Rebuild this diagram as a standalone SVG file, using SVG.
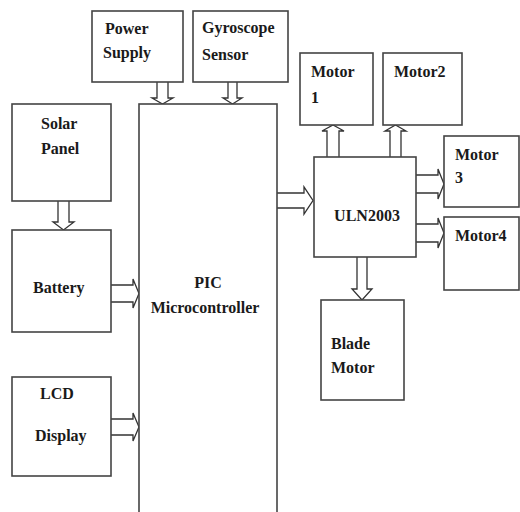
<svg xmlns="http://www.w3.org/2000/svg" width="520" height="512" viewBox="0 0 520 512">
<style>
.box{fill:#fff;stroke:#444;stroke-width:1.6}
.arr{fill:#fff;stroke:#333;stroke-width:1.3;stroke-linejoin:miter}
.t{font-family:'Liberation Serif','DejaVu Serif',serif;font-weight:bold;font-size:16px;fill:#1a1a1a}
</style>
<rect width="520" height="512" fill="#fff"/>
<g id="connectors">
<path class="arr" d="M157,82 V98 H152 L162.5,104 L173,98 H168 V82"/>
<path class="arr" d="M228,82 V98 H223 L232.5,104 L242,98 H237 V82"/>
<path class="arr" d="M58,201 V222 H53 L63.5,230 L74,222 H69 V201"/>
<path class="arr" d="M111,285 H133 V279 L139,293.5 L133,308 V302 H111"/>
<path class="arr" d="M111,419 H133 V413 L139,427 L133,441 V435 H111"/>
<path class="arr" d="M277,193 H304 V187 L313,200.5 L304,214 V208 H277"/>
<path class="arr" d="M327,157 V131 H322 L333,125 L344,131 H339 V157"/>
<path class="arr" d="M390,157 V131 H385 L395.5,125 L406,131 H401 V157"/>
<path class="arr" d="M416,175 H438 V169 L444,184 L438,199 V193 H416"/>
<path class="arr" d="M416,224 H438 V218 L444,233 L438,248 V242 H416"/>
<path class="arr" d="M357,257 V289 H352 L362,300 L372,289 H367 V257"/>
</g>
<g id="power"><rect class="box" x="92" y="11" width="91" height="71"/><text class="t" x="105" y="34">Power</text><text class="t" x="103" y="58">Supply</text></g>
<g id="gyro"><rect class="box" x="193" y="11" width="95" height="71"/><text class="t" x="202" y="33">Gyroscope</text><text class="t" x="202" y="60">Sensor</text></g>
<g id="pic"><rect class="box" x="139" y="104" width="138" height="420"/><text class="t" x="208" y="288" text-anchor="middle">PIC</text><text class="t" x="205" y="313" text-anchor="middle">Microcontroller</text></g>
<g id="solar"><rect class="box" x="12" y="104" width="99" height="97"/><text class="t" x="41" y="129">Solar</text><text class="t" x="41" y="154">Panel</text></g>
<g id="battery"><rect class="box" x="12" y="230" width="99" height="102"/><text class="t" x="33" y="293">Battery</text></g>
<g id="lcd"><rect class="box" x="12" y="377" width="99" height="99"/><text class="t" x="40" y="399">LCD</text><text class="t" x="35" y="441">Display</text></g>
<g id="uln"><rect class="box" x="314" y="157" width="102" height="100"/><text class="t" x="367" y="221" text-anchor="middle">ULN2003</text></g>
<g id="motor1"><rect class="box" x="300" y="53" width="73" height="72"/><text class="t" x="311" y="77">Motor</text><text class="t" x="311" y="103">1</text></g>
<g id="motor2"><rect class="box" x="383" y="53" width="79" height="72"/><text class="t" x="394" y="77">Motor2</text></g>
<g id="motor3"><rect class="box" x="444" y="136" width="75" height="71"/><text class="t" x="455" y="160">Motor</text><text class="t" x="455" y="183">3</text></g>
<g id="motor4"><rect class="box" x="444" y="217" width="75" height="73"/><text class="t" x="455" y="241">Motor4</text></g>
<g id="blade"><rect class="box" x="321" y="300" width="83" height="100"/><text class="t" x="331" y="349">Blade</text><text class="t" x="331" y="373">Motor</text></g>
</svg>
